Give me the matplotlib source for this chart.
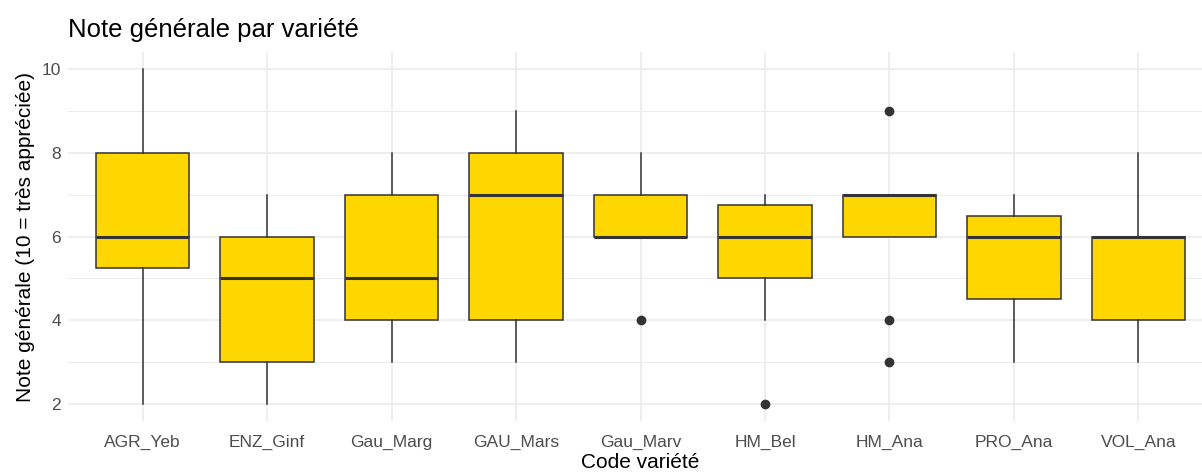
import matplotlib.pyplot as plt
import numpy as np

plt.rcParams['font.family'] = ['Liberation Sans', 'DejaVu Sans']

# box statistics
varietes = ['AGR_Yeb', 'ENZ_Ginf', 'Gau_Marg', 'GAU_Mars', 'Gau_Marv',
            'HM_Bel', 'HM_Ana', 'PRO_Ana', 'VOL_Ana']
whis_bas = [2, 2, 3, 3, 6, 4, 6, 3, 3]
q1 = [5.25, 3, 4, 4, 6, 5, 6, 4.5, 4]
mediane = [6, 5, 5, 7, 6, 6, 7, 6, 6]
q3 = [8, 6, 7, 8, 7, 6.75, 7, 6.5, 6]
whis_haut = [10, 7, 8, 9, 8, 7, 7, 7, 8]
atypiques = [[], [], [], [], [4], [2], [9, 4, 3], [], []]

stats = []
for i, v in enumerate(varietes):
    stats.append(dict(label=v, whislo=whis_bas[i], q1=q1[i], med=mediane[i],
                      q3=q3[i], whishi=whis_haut[i], fliers=atypiques[i]))

fig = plt.figure(figsize=(12.02, 4.73), dpi=100)
ax = fig.add_axes([68 / 1202, 52 / 473, 1145 / 1202, 369 / 473])

edge = '#333333'
ax.bxp(stats, positions=np.arange(len(varietes)), widths=0.75, patch_artist=True,
       showcaps=False,
       boxprops=dict(facecolor='#FFD700', edgecolor=edge, linewidth=1.1),
       medianprops=dict(color=edge, linewidth=2.2, solid_capstyle='butt'),
       whiskerprops=dict(color=edge, linewidth=1.1),
       flierprops=dict(marker='o', markerfacecolor=edge, markeredgecolor=edge,
                       markersize=6))

ax.set_xlim(-0.6, len(varietes) - 0.4)
ax.set_ylim(1.6, 10.4)
ax.set_yticks([2, 4, 6, 8, 10])
ax.set_yticks([3, 5, 7, 9], minor=True)
ax.set_xticks(np.arange(len(varietes)))
ax.set_xticklabels(varietes)

ax.grid(True, which='major', color='#EBEBEB', linewidth=1.2)
ax.grid(True, which='minor', axis='y', color='#EBEBEB', linewidth=0.7)
ax.set_axisbelow(True)
for s in ax.spines.values():
    s.set_visible(False)
ax.tick_params(which='both', length=0, labelsize=12.5, colors='#4D4D4D', pad=5)
ax.tick_params(axis='x', pad=10)

ax.set_xlabel('Code variété', fontsize=15, color='black', labelpad=2)
ax.set_ylabel('Note générale (10 = très appréciée)', fontsize=15, color='black', labelpad=5)
fig.text(68 / 1202, 1 - 30 / 473, 'Note générale par variété', fontsize=18.5,
         ha='left', va='center')

fig.savefig('out.png', dpi=100)
